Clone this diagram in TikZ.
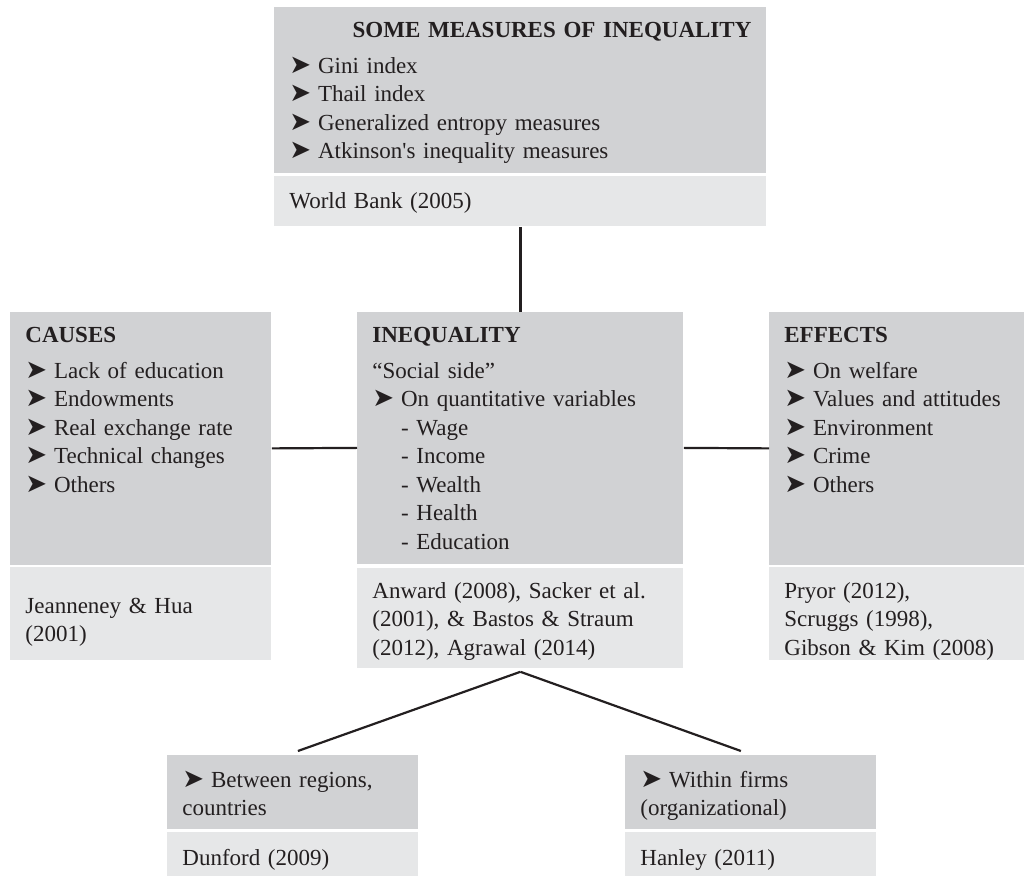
\documentclass[tikz,border=0pt]{standalone}
\usepackage{fontspec}
\setmainfont{Liberation Serif}
\newfontfamily\dejavu{DejaVu Sans}
\usetikzlibrary{positioning}

\definecolor{boxdark}{HTML}{D1D2D4}
\definecolor{boxlite}{HTML}{E6E7E8}
\definecolor{ink}{HTML}{231F20}

\newcommand{\arr}{{\dejavu\fontsize{13}{13}\selectfont\char"27A4}\hspace{0.3em}}
\newcommand{\sub}{\phantom{\arr}- }

\begin{document}
\begin{tikzpicture}[
    x=0.5pt, y=-0.5pt,
    every node/.style={text=ink, font=\fontsize{11.5}{14.25}\selectfont},
    darkbox/.style={rectangle, fill=boxdark, anchor=north west, align=left, inner xsep=7.5pt, inner ysep=0pt, text height=15pt},
    litebox/.style={rectangle, fill=boxlite, anchor=north west, align=left, inner xsep=7.5pt, inner ysep=0pt},
    link/.style={draw=ink, line width=1.1pt}
]
\useasboundingbox (0,0) rectangle (1024,876);

% Measures on top
\node[darkbox, text width=231pt, text depth=68pt] (measures) at (274,7)
    {\hspace*{\fill}\textbf{SOME MEASURES OF INEQUALITY}\hspace*{\fill}\\[3.75pt]
     \arr Gini index\\ \arr Thail index\\ \arr Generalized entropy measures\\ \arr Atkinson\textquotesingle s inequality measures};
\node[litebox, text width=231pt, text height=16pt, text depth=9pt] (measuresref) at (274,176) {World Bank (2005)};

% Middle row
\node[darkbox, text width=115.5pt, text depth=111.5pt] (causes) at (10,312)
    {\textbf{CAUSES}\\[3.75pt]
     \arr Lack of education\\ \arr Endowments\\ \arr Real exchange rate\\ \arr Technical changes\\ \arr Others};
\node[litebox, text width=115.5pt, text height=23pt, text depth=23.5pt] (causesref) at (10,567) {Jeanneney \& Hua\\(2001)};

\node[darkbox, text width=148pt, text depth=111pt] (ineq) at (357,312)
    {\textbf{INEQUALITY}\\[3.75pt]
     “Social side”\\ \arr On quantitative variables\\ \sub Wage\\ \sub Income\\ \sub Wealth\\ \sub Health\\ \sub Education};
\node[litebox, text width=148pt, text height=15pt, text depth=35pt] (ineqref) at (357,568)
    {Anward (2008), Sacker et al.\\(2001), \& Bastos \& Straum\\(2012), Agrawal (2014)};

\node[darkbox, text width=112.5pt, text depth=111.5pt] (effects) at (769,312)
    {\textbf{EFFECTS}\\[3.75pt]
     \arr On welfare\\ \arr Values and attitudes\\ \arr Environment\\ \arr Crime\\ \arr Others};
\node[litebox, text width=112.5pt, text height=15.5pt, text depth=31pt] (effectsref) at (769,567)
    {Pryor (2012),\\Scruggs (1998),\\Gibson \& Kim (2008)};

% Bottom row
\node[darkbox, text width=110.5pt, text height=16pt, text depth=21pt] (between) at (167,755)
    {\arr Between regions,\\countries};
\node[litebox, text width=110.5pt, text height=16.5pt, text depth=5.5pt] (betweenref) at (167,832) {Dunford (2009)};

\node[darkbox, text width=110.5pt, text height=16pt, text depth=21pt] (within) at (625,755)
    {\arr Within firms\\(organizational)};
\node[litebox, text width=110.5pt, text height=16.5pt, text depth=5.5pt] (withinref) at (625,832) {Hanley (2011)};

% Connectors
\draw[link] (measuresref.south) -- (ineq.north);
\draw[link] ([yshift=-4.75pt]causes.east) -- ([yshift=-4.75pt]ineq.west);
\draw[link] ([yshift=-4.75pt]ineq.east) -- ([yshift=-4.75pt]effects.west);
\draw[link] ([yshift=-1.5pt]ineqref.south) -- ([xshift=2.5pt,yshift=2pt]between.north);
\draw[link] ([yshift=-1.5pt]ineqref.south) -- ([xshift=-5pt,yshift=2pt]within.north);

\end{tikzpicture}
\end{document}
